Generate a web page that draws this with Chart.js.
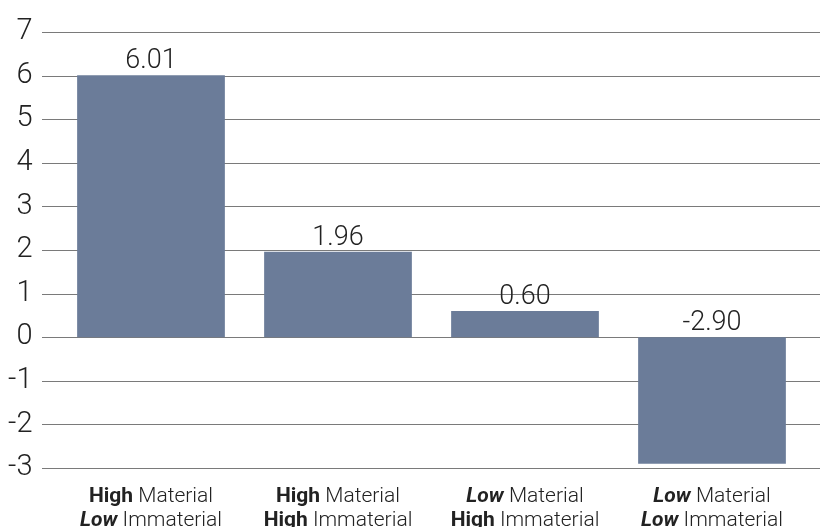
<!DOCTYPE html>
<html>
<head>
<meta charset="utf-8">
<script src="https://cdn.jsdelivr.net/npm/chart.js@4"></script>
<style>
  html, body { margin: 0; padding: 0; background: #fff; }
  #wrap { width: 820px; height: 527px; }
</style>
</head>
<body>
<div id="wrap"><canvas id="c" width="820" height="527"></canvas></div>
<script>
// Quadrant groups (materiality level of material vs immaterial factors)
const categories = ['HL', 'HH', 'LH', 'LL'];
const materialLevel = ['High', 'High', 'Low', 'Low'];
const immaterialLevel = ['Low', 'High', 'High', 'Low'];
const values = [6.01, 1.96, 0.60, -2.90];
const yTicks = [-3, -2, -1, 0, 1, 2, 3, 4, 5, 6, 7];

const FONT = 'Roboto, "Liberation Sans", sans-serif';
const BAR = '#6b7c99';
const GRID = '#7a7a7a';
const TEXT = '#222222';

// Horizontal gridlines span the full width, beyond the plot area
const gridPlugin = {
  id: 'wideGrid',
  beforeDatasetsDraw(chart) {
    const { ctx, scales: { y } } = chart;
    ctx.save();
    ctx.strokeStyle = GRID;
    ctx.lineWidth = 1.2;
    yTicks.forEach(v => {
      const py = Math.round(y.getPixelForValue(v)) + 0.5;
      ctx.beginPath();
      ctx.moveTo(42, py);
      ctx.lineTo(chart.width, py);
      ctx.stroke();
    });
    ctx.restore();
  }
};

// Value labels above each bar (negatives sit just above the zero line)
const valueLabelPlugin = {
  id: 'valueLabels',
  afterDatasetsDraw(chart) {
    const { ctx, scales: { y } } = chart;
    const meta = chart.getDatasetMeta(0);
    ctx.save();
    ctx.font = '300 27px ' + FONT;
    ctx.fillStyle = TEXT;
    ctx.textAlign = 'center';
    ctx.textBaseline = 'alphabetic';
    meta.data.forEach((bar, i) => {
      const top = Math.min(bar.y, y.getPixelForValue(0));
      ctx.fillText(values[i].toFixed(2), bar.x, top - 7);
    });
    ctx.restore();
  }
};

// Two-line category labels with mixed bold / bold-italic emphasis
const catLabelPlugin = {
  id: 'catLabels',
  afterDraw(chart) {
    const { ctx, scales: { x } } = chart;
    const size = 21;
    const emph = lvl => (lvl === 'Low' ? 'italic bold ' : 'bold ') + size + 'px ' + FONT;
    const plain = '300 ' + size + 'px ' + FONT;
    const drawLine = (cx, baseY, word, rest) => {
      ctx.font = emph(word);
      const w1 = ctx.measureText(word).width;
      ctx.font = plain;
      const w2 = ctx.measureText(rest).width;
      const sx = cx - (w1 + w2) / 2;
      ctx.font = emph(word);
      ctx.fillText(word, sx, baseY);
      ctx.font = plain;
      ctx.fillText(rest, sx + w1, baseY);
    };
    ctx.save();
    ctx.fillStyle = TEXT;
    ctx.textAlign = 'left';
    ctx.textBaseline = 'alphabetic';
    categories.forEach((c, i) => {
      const cx = x.getPixelForValue(i);
      drawLine(cx, 502, materialLevel[i], ' Material');
      drawLine(cx, 526, immaterialLevel[i], ' Immaterial');
    });
    ctx.restore();
  }
};

new Chart(document.getElementById('c'), {
  type: 'bar',
  data: {
    labels: categories,
    datasets: [{
      data: values,
      backgroundColor: BAR,
      borderWidth: 0,
      barPercentage: 0.79,
      categoryPercentage: 1.0
    }]
  },
  options: {
    responsive: false,
    animation: false,
    devicePixelRatio: 1,
    layout: { padding: { top: 32, right: 14.5, bottom: 59, left: 0 } },
    plugins: { legend: { display: false }, tooltip: { enabled: false }, title: { display: false } },
    scales: {
      x: {
        display: false,
        offset: true,
        grid: { display: false }
      },
      y: {
        min: -3,
        max: 7,
        afterFit(scale) {
          scale.width = 57.5;
          scale.paddingTop = 0;
          scale.paddingBottom = 0;
        },
        afterBuildTicks(scale) { scale.ticks = yTicks.map(v => ({ value: v })); },
        grid: { display: false, drawTicks: false },
        border: { display: false },
        ticks: {
          padding: 25,
          color: TEXT,
          font: { family: FONT, size: 29, weight: '300' },
          callback: v => String(v)
        }
      }
    }
  },
  plugins: [gridPlugin, valueLabelPlugin, catLabelPlugin]
});
</script>
</body>
</html>
